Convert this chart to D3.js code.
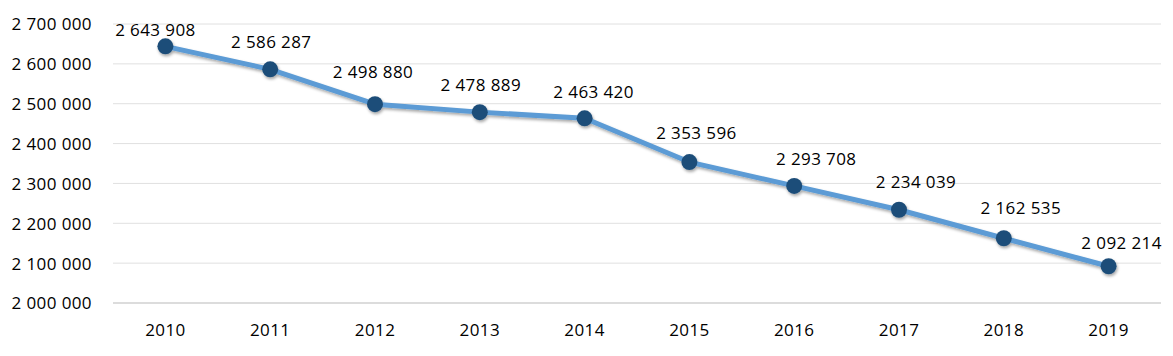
<!DOCTYPE html>
<html><head><meta charset="utf-8">
<script src="https://cdn.jsdelivr.net/npm/d3@7"></script>
<style>body{margin:0;background:#fff}svg{display:block}text{font-family:"Open Sans",sans-serif;fill:#000}</style>
</head><body><svg id="c" width="1173" height="356"></svg>
<script>
const years = ["2010","2011","2012","2013","2014","2015","2016","2017","2018","2019"];
const values = [2643908,2586287,2498880,2478889,2463420,2353596,2293708,2234039,2162535,2092214];
const yTicks = [2000000,2100000,2200000,2300000,2400000,2500000,2600000,2700000];
// label placement offsets (layout only)
const labelDx = [-10,1,-2,1,9,7,22,17,17,13];
const labelDy = [-16,-27,-32,-27,-26,-29,-27,-28,-30,-23];

const svg = d3.select("#c");
const mLeft=113, mRight=1161, mTop=24, mBottom=303;
const x = d3.scaleBand().domain(years).range([mLeft,mRight]);
const y = d3.scaleLinear().domain([2000000,2700000]).range([mBottom,mTop]);
const fmt = v => d3.format(",")(v).replace(/,/g," ");

const defs = svg.append("defs");
const f = defs.append("filter").attr("id","sh").attr("x","-20%").attr("y","-20%").attr("width","140%").attr("height","160%");
f.append("feDropShadow").attr("dx",1).attr("dy",2).attr("stdDeviation",1.5).attr("flood-color","#000").attr("flood-opacity",0.35);

svg.append("g").selectAll("line").data(yTicks).join("line")
  .attr("x1",mLeft).attr("x2",mRight).attr("y1",d=>y(d)).attr("y2",d=>y(d))
  .attr("stroke",(d,i)=>i===0?"#d0d0d0":"#e0e0e0").attr("stroke-width",(d,i)=>i===0?1.5:1);

const yAxis = svg.append("g").attr("transform",`translate(${mLeft-21},0)`)
  .call(d3.axisLeft(y).tickValues(yTicks).tickFormat(fmt).tickSize(0).tickPadding(0));
yAxis.select(".domain").remove();
yAxis.selectAll("text").style("font-size","17px").style("letter-spacing","0.4px").attr("dy","0.35em");

const xAxis = svg.append("g").attr("transform",`translate(0,${mBottom})`)
  .call(d3.axisBottom(x).tickSize(0).tickPadding(0));
xAxis.select(".domain").remove();
xAxis.selectAll("text").style("font-size","17px").style("letter-spacing","0.4px").attr("y",27).attr("dy","0.35em");

const cx = d=>x(d)+x.bandwidth()/2;
const line = d3.line().x((d,i)=>cx(years[i])).y(d=>y(d));
const g = svg.append("g").attr("filter","url(#sh)");
g.append("path").datum(values).attr("d",line).attr("fill","none").attr("stroke","#5b9bd5").attr("stroke-width",5).attr("stroke-linejoin","round");
g.selectAll("circle").data(values).join("circle")
  .attr("cx",(d,i)=>cx(years[i])).attr("cy",d=>y(d)).attr("r",8).attr("fill","#1f4e79");

svg.append("g").selectAll("text").data(values).join("text")
  .attr("x",(d,i)=>cx(years[i])+labelDx[i]).attr("y",(d,i)=>y(d)+labelDy[i]).attr("dy","0.35em")
  .attr("text-anchor","middle").style("font-size","17px").style("letter-spacing","0.4px").text(fmt);
</script></body></html>
